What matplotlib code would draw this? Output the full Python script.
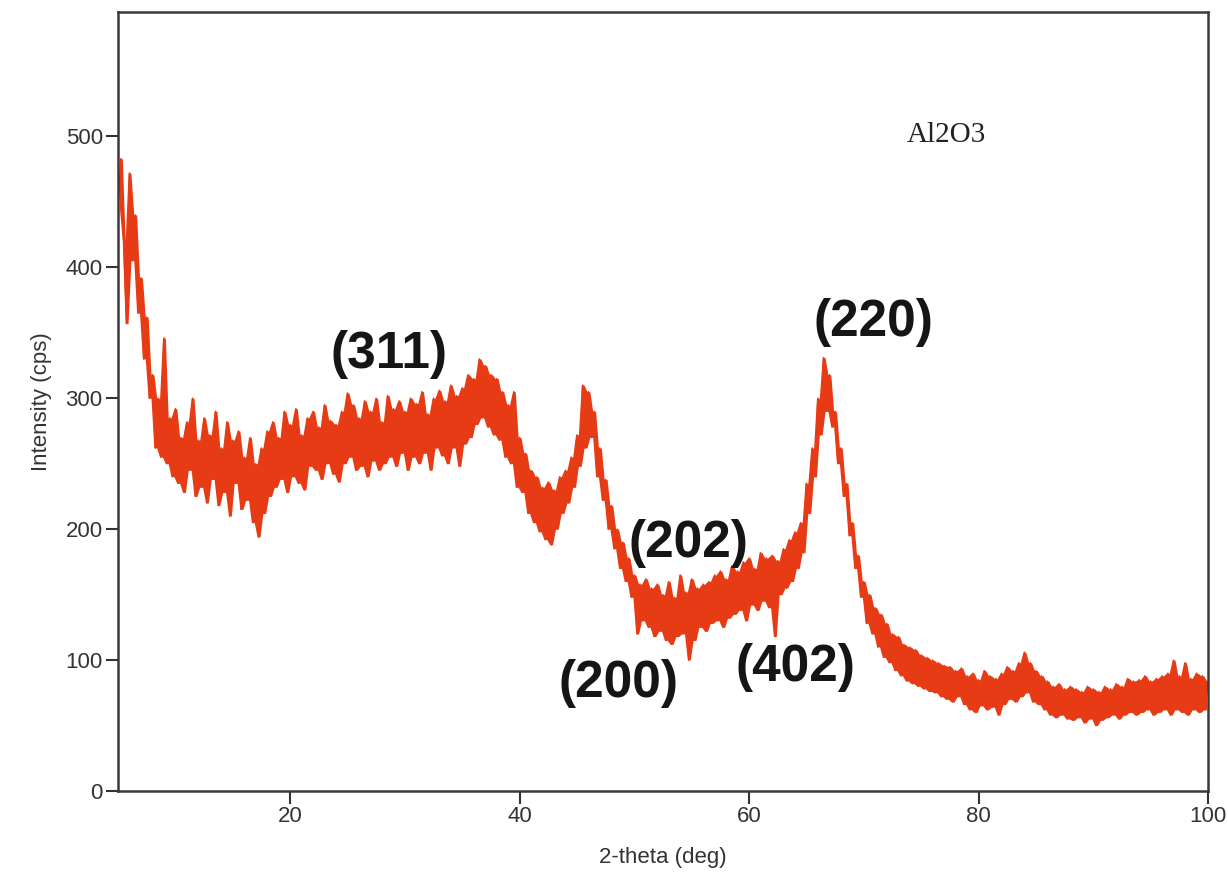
import matplotlib
matplotlib.use('Agg')
import matplotlib.pyplot as plt
import numpy as np

# intensity, one value every 0.25 deg from 5 to 100
intensity = [
    445, 483, 420, 357, 472, 405, 440, 365, 392, 330, 362, 300, 318, 262, 300, 255, 346, 250, 285, 240,
    292, 235, 270, 228, 282, 245, 300, 225, 268, 232, 285, 220, 272, 238, 290, 218, 262, 228, 282, 210,
    268, 235, 275, 215, 255, 222, 270, 205, 250, 194, 262, 212, 275, 225, 282, 232, 270, 238, 290, 228,
    280, 240, 292, 235, 272, 230, 285, 248, 290, 245, 278, 238, 295, 250, 283, 242, 280, 236, 290, 250,
    304, 255, 295, 245, 285, 248, 298, 240, 290, 252, 300, 245, 282, 250, 302, 255, 292, 248, 298, 258,
    290, 245, 300, 255, 296, 250, 305, 258, 288, 245, 300, 262, 306, 256, 298, 250, 310, 262, 302, 248,
    308, 265, 318, 270, 315, 280, 330, 285, 325, 278, 318, 272, 315, 268, 305, 255, 295, 250, 305, 232,
    270, 228, 258, 212, 245, 205, 240, 198, 232, 192, 236, 188, 230, 200, 240, 212, 245, 220, 255, 232,
    272, 248, 310, 262, 305, 270, 290, 240, 262, 222, 238, 200, 218, 185, 200, 170, 190, 160, 178, 148,
    165, 120, 158, 130, 162, 125, 155, 118, 158, 122, 150, 115, 160, 112, 148, 118, 165, 120, 152, 100,
    162, 115, 155, 125, 158, 122, 160, 128, 165, 130, 168, 125, 162, 132, 172, 135, 168, 138, 175, 130,
    178, 142, 170, 138, 182, 145, 178, 140, 180, 118, 176, 150, 185, 155, 192, 160, 198, 170, 205, 182,
    235, 212, 262, 240, 300, 272, 331, 290, 318, 278, 290, 250, 262, 225, 235, 195, 205, 170, 180, 148,
    160, 128, 150, 120, 140, 110, 135, 102, 128, 98, 120, 92, 118, 88, 112, 84, 110, 82, 108, 80,
    104, 78, 102, 76, 100, 75, 98, 72, 96, 70, 95, 68, 92, 72, 94, 66, 88, 62, 90, 60,
    85, 65, 92, 62, 88, 64, 86, 58, 90, 66, 95, 70, 92, 68, 98, 72, 106, 75, 98, 68,
    92, 66, 88, 62, 84, 58, 80, 56, 82, 58, 78, 55, 80, 54, 78, 56, 76, 52, 80, 55,
    78, 50, 76, 54, 80, 56, 78, 58, 82, 55, 80, 58, 86, 60, 84, 58, 85, 60, 88, 62,
    84, 58, 86, 60, 88, 62, 90, 58, 100, 62, 88, 60, 98, 58, 86, 62, 90, 60, 88, 62,
    84,
]
two_theta = np.linspace(5, 100, len(intensity))

# peak labels (hkl) and where they sit
peak_labels = ['(311)', '(220)', '(202)', '(200)', '(402)']
label_x = [28.6, 70.8, 54.7, 48.6, 64.0]
label_y = [333, 358, 189, 82, 94]

x_ticks = [20, 40, 60, 80, 100]
y_ticks = [0, 100, 200, 300, 400, 500]

plt.rcParams['font.family'] = ['Liberation Sans', 'DejaVu Sans']

fig = plt.figure(figsize=(12.28, 8.74), dpi=100)
ax = fig.add_axes([0.0961, 0.095, 0.8876, 0.8913])

red = '#e63b14'
y = np.array(intensity, dtype=float)
# solid noise band swept by each step of the scan
seg_x = (two_theta[:-1] + two_theta[1:]) / 2
seg_lo = np.minimum(y[:-1], y[1:])
seg_hi = np.maximum(y[:-1], y[1:])
ax.fill_between(seg_x, seg_lo, seg_hi, color=red, linewidth=0)
ax.plot(two_theta, y, color=red, linewidth=1.1)

ax.set_xlim(5, 100)
ax.set_ylim(0, 595)
ax.set_xticks(x_ticks)
ax.set_yticks(y_ticks)
ax.tick_params(direction='out', length=9, width=1.5, color='#333333',
               labelsize=16, labelcolor='#333333', pad=2)
for s in ax.spines.values():
    s.set_color('#3a3a3a')
    s.set_linewidth(1.8)

ax.set_xlabel('2-theta (deg)', fontsize=16, color='#333333', labelpad=14)
ax.set_ylabel('Intensity (cps)', fontsize=16, color='#333333', labelpad=10)

for lab, lx, ly in zip(peak_labels, label_x, label_y):
    ax.text(lx, ly, lab, fontsize=37, fontweight='bold', color='#151515',
            ha='center', va='center')

ax.text(77.2, 501, 'Al2O3', fontsize=21, family='Liberation Serif',
        color='#222222', ha='center', va='center')

fig.savefig('out.png', dpi=100)
